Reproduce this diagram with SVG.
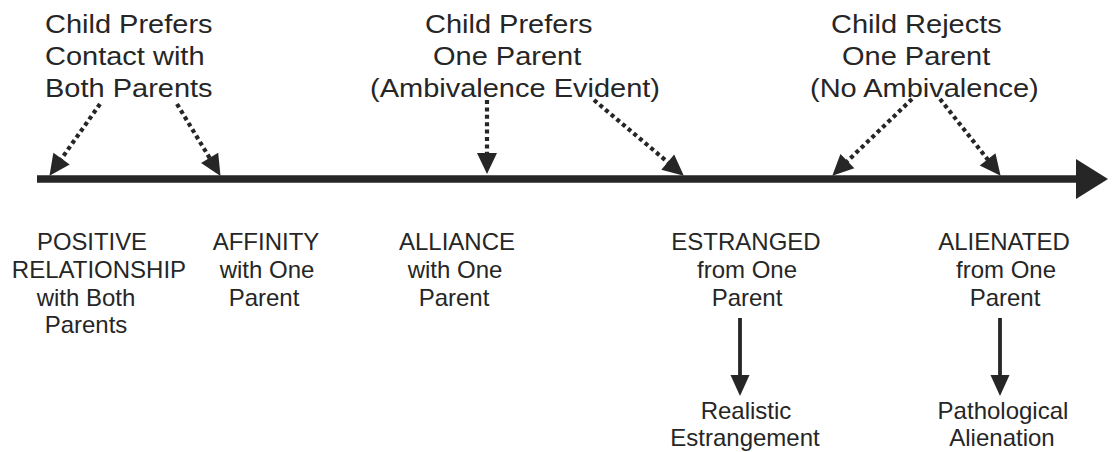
<svg xmlns="http://www.w3.org/2000/svg" width="1116" height="452" viewBox="0 0 1116 452">
<style>
  text { font-family: "Liberation Sans", Arial, sans-serif; fill: #262626; }
  .top { font-size: 25px; }
  .bot { font-size: 24px; text-anchor: middle; }
  .dot { stroke: #262626; stroke-width: 4.2; stroke-dasharray: 4 3.4; fill: none; }
  .solid { stroke: #262626; stroke-width: 3.8; fill: none; }
  .axis { stroke: #262626; stroke-width: 7.5; fill: none; }
</style>
<defs>
  <marker id="dhead" markerUnits="userSpaceOnUse" markerWidth="20" markerHeight="20" refX="10" refY="10" orient="auto" overflow="visible">
    <path d="M0,0 L21,10 L0,20 z" fill="#262626"/>
  </marker>
  <marker id="shead" markerUnits="userSpaceOnUse" markerWidth="21" markerHeight="18" refX="3" refY="9.5" orient="auto" overflow="visible">
    <path d="M0,0 L21,9.5 L0,19 z" fill="#262626"/>
  </marker>
</defs>
<rect width="1116" height="452" fill="#ffffff"/>

<g id="connectors">
  <line class="axis" x1="37" y1="179" x2="1080" y2="179"/>
  <polygon points="1076,159 1108,179 1076,199" fill="#262626"/>
  <line class="dot" x1="100" y1="104" x2="55.8" y2="166.8" marker-end="url(#dhead)"/>
  <line class="dot" x1="177" y1="104" x2="214.8" y2="166.5" marker-end="url(#dhead)"/>
  <line class="dot" x1="487" y1="100" x2="487" y2="163" marker-end="url(#dhead)"/>
  <line class="dot" x1="594" y1="100" x2="675.4" y2="168.6" marker-end="url(#dhead)"/>
  <line class="dot" x1="912" y1="99" x2="840.2" y2="168.1" marker-end="url(#dhead)"/>
  <line class="dot" x1="940" y1="99" x2="993.8" y2="167.2" marker-end="url(#dhead)"/>
  <line class="solid" x1="740" y1="318" x2="740" y2="378" marker-end="url(#shead)"/>
  <line class="solid" x1="1000" y1="318" x2="1000" y2="378" marker-end="url(#shead)"/>
</g>

<g id="prefers-both">
  <text class="top" transform="translate(45,33) scale(1.16,1)">Child Prefers</text>
  <text class="top" transform="translate(45,65) scale(1.16,1)">Contact with</text>
  <text class="top" transform="translate(45,97) scale(1.16,1)">Both Parents</text>
</g>
<g id="prefers-one">
  <text class="top" transform="translate(425,33) scale(1.16,1)">Child Prefers</text>
  <text class="top" transform="translate(433,65) scale(1.16,1)">One Parent</text>
  <text class="top" transform="translate(370,97) scale(1.16,1)">(Ambivalence Evident)</text>
</g>
<g id="rejects-one">
  <text class="top" transform="translate(831,33) scale(1.16,1)">Child Rejects</text>
  <text class="top" transform="translate(842,65) scale(1.16,1)">One Parent</text>
  <text class="top" transform="translate(810,97) scale(1.16,1)">(No Ambivalence)</text>
</g>

<g id="positive">
  <text class="bot" x="92" y="250" textLength="110" lengthAdjust="spacingAndGlyphs">POSITIVE</text>
  <text class="bot" x="99" y="278">RELATIONSHIP</text>
  <text class="bot" x="86" y="306">with Both</text>
  <text class="bot" x="86" y="333">Parents</text>
</g>
<g id="affinity">
  <text class="bot" x="266" y="250">AFFINITY</text>
  <text class="bot" x="267" y="278">with One</text>
  <text class="bot" x="264" y="306">Parent</text>
</g>
<g id="alliance">
  <text class="bot" x="457" y="250">ALLIANCE</text>
  <text class="bot" x="455" y="278">with One</text>
  <text class="bot" x="454" y="306">Parent</text>
</g>
<g id="estranged">
  <text class="bot" x="746" y="250">ESTRANGED</text>
  <text class="bot" x="747" y="278">from One</text>
  <text class="bot" x="747" y="306">Parent</text>
</g>
<g id="alienated">
  <text class="bot" x="1004" y="250">ALIENATED</text>
  <text class="bot" x="1006" y="278">from One</text>
  <text class="bot" x="1005" y="306">Parent</text>
</g>
<g id="realistic">
  <text class="bot" x="746" y="419">Realistic</text>
  <text class="bot" x="745" y="446">Estrangement</text>
</g>
<g id="pathological">
  <text class="bot" x="1003" y="419">Pathological</text>
  <text class="bot" x="1002" y="446">Alienation</text>
</g>
</svg>
